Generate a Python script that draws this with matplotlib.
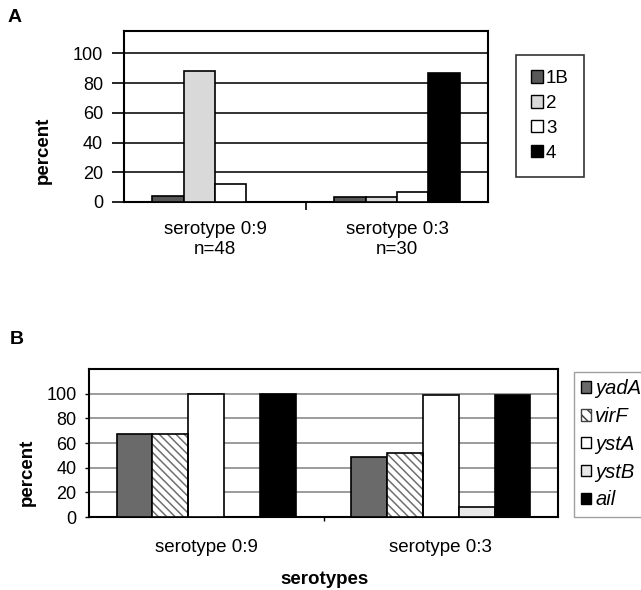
import numpy as np
import matplotlib
matplotlib.use("Agg")
import matplotlib.pyplot as plt
from matplotlib.patches import Patch

plt.rcParams["font.family"] = ["Liberation Sans", "DejaVu Sans"]
plt.rcParams["hatch.linewidth"] = 1.1

W, H = 641, 590

# panel A data (percent per biotype)
groups_a = ["serotype 0:9\nn=48", "serotype 0:3\nn=30"]
biotypes = ["1B", "2", "3", "4"]
pct_1b = [4, 3.3]
pct_2 = [88, 3.3]
pct_3 = [12, 7]
pct_4 = [0, 87]
colors_a = ["#585858", "#d9d9d9", "#ffffff", "#000000"]

# panel B data (percent positive per gene)
groups_b = ["serotype 0:9", "serotype 0:3"]
genes = ["yadA", "virF", "ystA", "ystB", "ail"]
yadA = [67, 49]
virF = [67, 52]
ystA = [100, 99]
ystB = [0, 8]
ail = [100, 99]
colors_b = ["#6a6a6a", "#ffffff", "#ffffff", "#e8e8e8", "#000000"]
yticks = [0, 20, 40, 60, 80, 100]

fig = plt.figure(figsize=(W / 100, H / 100), dpi=100)

# ---------- panel A ----------
axA = fig.add_axes([124 / W, 1 - 202 / H, 364 / W, 171 / H])
x = np.arange(len(groups_a))
w = 0.172
for i, vals in enumerate([pct_1b, pct_2, pct_3, pct_4]):
    axA.bar(x + (i - 1.5) * w, vals, w, color=colors_a[i], edgecolor="black",
            linewidth=1.2, zorder=3)
axA.set_xlim(-0.5, 1.5)
axA.set_ylim(0, 115)
axA.set_yticks(yticks)
axA.set_yticklabels([str(t) for t in yticks], fontsize=13)
axA.set_xticks(x)
axA.set_xticklabels(groups_a, fontsize=13.5, linespacing=1.2)
axA.tick_params(axis="x", length=0, pad=14)
axA.set_xticks([0.5], minor=True)
axA.tick_params(axis="x", which="minor", length=6, width=1.2)
axA.tick_params(axis="y", length=9, width=1.2, pad=6)
axA.yaxis.grid(True, color="#222222", linewidth=1.3, zorder=0)
axA.set_axisbelow(True)
for s in axA.spines.values():
    s.set_linewidth(1.5)

handles_a = [Patch(facecolor=c, edgecolor="black", linewidth=1) for c in colors_a]
legA = fig.legend(handles_a, biotypes, loc="upper left", bbox_to_anchor=(516 / W, 1 - 55 / H),
                  fontsize=13.5, frameon=True, fancybox=False, edgecolor="black",
                  borderpad=0.8, labelspacing=0.42, handlelength=0.65, handleheight=0.65,
                  handletextpad=0.15, borderaxespad=0)
legA.get_frame().set_linewidth(1.2)

fig.text(8 / W, 1 - 18 / H, "A", fontsize=14, fontweight="bold", va="center", ha="left")
fig.text(43 / W, 1 - 150 / H, "percent", fontsize=13.5, fontweight="bold",
         rotation=90, ha="center", va="center")

# ---------- panel B ----------
axB = fig.add_axes([89 / W, 1 - 517 / H, 469 / W, 148 / H])
xb = np.arange(len(groups_b))
wb = 0.153
for i, vals in enumerate([yadA, virF, ystA, ystB, ail]):
    pos = xb + (i - 2) * wb
    if genes[i] == "virF":
        axB.bar(pos, vals, wb, color="white", edgecolor="#707070", hatch="\\\\\\\\",
                linewidth=0, zorder=3)
        axB.bar(pos, vals, wb, fill=False, edgecolor="black", linewidth=1.2, zorder=4)
    else:
        axB.bar(pos, vals, wb, color=colors_b[i], edgecolor="black",
                linewidth=1.2, zorder=3)
axB.set_xlim(-0.5, 1.5)
axB.set_ylim(0, 120)
axB.set_yticks(yticks)
axB.set_yticklabels([str(t) for t in yticks], fontsize=13)
axB.set_xticks(xb)
axB.set_xticklabels(groups_b, fontsize=13.5)
axB.tick_params(axis="x", length=0, pad=16)
axB.set_xticks([0.5], minor=True)
axB.tick_params(axis="x", which="minor", length=3, width=1)
axB.tick_params(axis="y", length=3, width=1, pad=6)
axB.yaxis.grid(True, color="#8a8a8a", linewidth=1.2, zorder=0)
axB.set_axisbelow(True)
for s in axB.spines.values():
    s.set_linewidth(1.5)

handles_b = []
for i, c in enumerate(colors_b):
    if genes[i] == "virF":
        handles_b.append(Patch(facecolor="white", edgecolor="#404040", hatch="\\\\\\", linewidth=1))
    else:
        handles_b.append(Patch(facecolor=c, edgecolor="black", linewidth=1))
legB = fig.legend(handles_b, genes, loc="upper left", bbox_to_anchor=(574 / W, 1 - 372 / H),
                  prop={"size": 14.5, "style": "italic"}, frameon=True, fancybox=False,
                  edgecolor="#888888", borderpad=0.35, labelspacing=0.44,
                  handlelength=0.5, handleheight=0.5, handletextpad=0.2, borderaxespad=0)
legB.get_frame().set_linewidth(1.0)

fig.text(10 / W, 1 - 340 / H, "B", fontsize=14, fontweight="bold", va="center", ha="left")
fig.text(27 / W, 1 - 472 / H, "percent", fontsize=13.5, fontweight="bold",
         rotation=90, ha="center", va="center")
fig.text(325 / W, 1 - 580 / H, "serotypes", fontsize=13.5, fontweight="bold",
         ha="center", va="center")

fig.savefig("out.png", dpi=100)
